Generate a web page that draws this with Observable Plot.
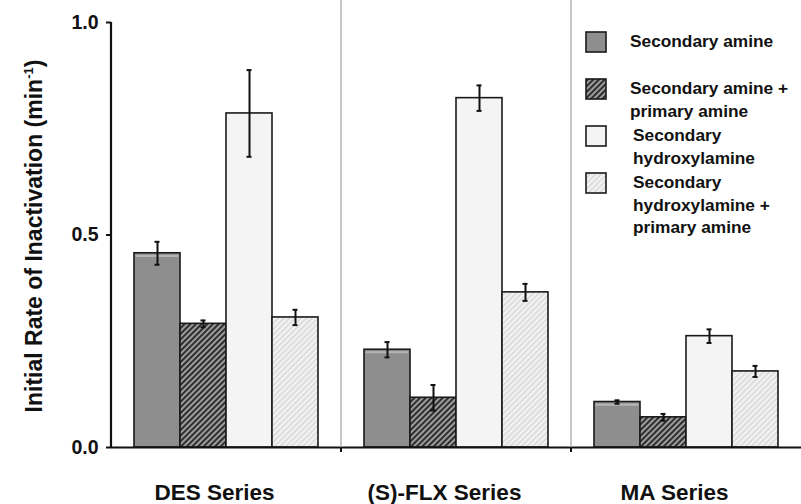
<!DOCTYPE html>
<html>
<head>
<meta charset="utf-8">
<script src="https://cdn.jsdelivr.net/npm/d3@7"></script>
<script src="https://cdn.jsdelivr.net/npm/@observablehq/plot@0.6"></script>
<style>
  html, body { margin: 0; padding: 0; background: #fff; }
  #wrap { position: relative; width: 801px; height: 504px; overflow: hidden; font-family: "Liberation Sans", Arial, sans-serif; }
  #ytitle { position: absolute; left: 34px; top: 236px; transform: translate(-50%, -50%) rotate(-90deg); white-space: nowrap;
            font-weight: bold; font-size: 23px; color: #111; line-height: 1; }
  #ytitle sup { font-size: 13px; }
  .leg { position: absolute; left: 585px; }
  .leg svg { position: absolute; left: 0; top: 0; }
  .leg .lab { position: absolute; top: -1px; font-weight: bold; font-size: 17.3px; line-height: 22.5px; color: #111; white-space: nowrap; }
</style>
</head>
<body>
<div id="wrap"></div>
<script>
const groups = ["DES Series", "(S)-FLX Series", "MA Series"];
const types = ["Secondary amine", "Secondary amine + primary amine", "Secondary hydroxylamine", "Secondary hydroxylamine + primary amine"];
const legendLines = [["Secondary amine"], ["Secondary amine +", "primary amine"], ["Secondary", "hydroxylamine"], ["Secondary", "hydroxylamine +", "primary amine"]];
const desValues = [0.457, 0.291, 0.786, 0.306];
const desErrors = [0.027, 0.008, 0.102, 0.018];
const flxValues = [0.230, 0.117, 0.822, 0.365];
const flxErrors = [0.018, 0.030, 0.030, 0.020];
const maValues = [0.107, 0.071, 0.262, 0.179];
const maErrors = [0.004, 0.008, 0.016, 0.013];
const yTicks = [0, 0.5, 1.0];
const fills = ["#8e8e8e", "url(#hatchDark)", "#f4f4f4", "url(#hatchLight)"];

const valueSets = [desValues, flxValues, maValues];
const errorSets = [desErrors, flxErrors, maErrors];
const data = [];
groups.forEach((g, gi) => types.forEach((t, ti) => {
  const v = valueSets[gi][ti], e = errorSets[gi][ti];
  data.push({group: g, type: t, value: v, lo: v - e, hi: v + e});
}));
const grayBars = data.filter(d => d.type === types[0]);

const font = '"Liberation Sans", Arial, sans-serif';
const plot = Plot.plot({
  width: 801, height: 504,
  marginLeft: 110, marginRight: 0, marginTop: 22, marginBottom: 57,
  style: {fontFamily: font, background: "transparent", overflow: "visible"},
  fx: {domain: groups, padding: 0, label: null},
  x: {domain: types, paddingInner: 0, paddingOuter: 0.45, axis: null},
  y: {domain: [0, 1], axis: null},
  color: {domain: types, range: fills},
  marks: [
    Plot.barY(data, {fx: "group", x: "type", y: "value", fill: "type", stroke: "#1a1a1a", strokeWidth: 1.6}),
    Plot.tickY(grayBars, {fx: "group", x: "type", y: "value", dy: 2.5, insetLeft: 1.5, insetRight: 1.5, stroke: "#b4b4b4", strokeWidth: 2.2}),
    Plot.ruleY([0], {stroke: "#111", strokeWidth: 2.2}),
    Plot.ruleX(data, {fx: "group", x: "type", y1: "lo", y2: "hi", stroke: "#111", strokeWidth: 2}),
    Plot.tickY(data, {fx: "group", x: "type", y: "lo", insetLeft: 20.5, insetRight: 20.5, stroke: "#111", strokeWidth: 2}),
    Plot.tickY(data, {fx: "group", x: "type", y: "hi", insetLeft: 20.5, insetRight: 20.5, stroke: "#111", strokeWidth: 2}),
    Plot.axisY({ticks: yTicks, tickFormat: d3.format(".1f"), tickSize: 5, tickPadding: 8, fontSize: 19.5, fontWeight: "bold", label: null, stroke: "#111", strokeWidth: 2, fill: "#111"}),
    Plot.axisFx({anchor: "bottom", tickSize: 0, tickPadding: 37, dx: -12, fontSize: 22.5, fontWeight: "bold", label: null, fill: "#111"})
  ]
});

// pattern defs
const svg = d3.select(plot);
const defs = svg.insert("defs", ":first-child");
function hatch(id, bg, fg, w) {
  const p = defs.append("pattern").attr("id", id).attr("patternUnits", "userSpaceOnUse")
    .attr("width", 4).attr("height", 4).attr("patternTransform", "rotate(45)");
  p.append("rect").attr("width", 4).attr("height", 4).attr("fill", bg);
  p.append("line").attr("x1", 1).attr("y1", 0).attr("x2", 1).attr("y2", 4).attr("stroke", fg).attr("stroke-width", w);
}
hatch("hatchDark", "#2e2e2e", "#d8d8d8", 1.3);
hatch("hatchLight", "#f3f3f3", "#cfcfcf", 1.2);

// axis line and group separators from the library's scales
const fx = plot.scale("fx"), y = plot.scale("y");
const gLines = svg.append("g");
const x0 = fx.apply(groups[0]);
gLines.append("line").attr("x1", x0).attr("x2", x0).attr("y1", y.apply(1)).attr("y2", y.apply(0))
  .attr("stroke", "#111").attr("stroke-width", 2.2);
groups.slice(1).forEach(g => {
  const xs = fx.apply(g);
  gLines.append("line").attr("x1", xs).attr("x2", xs).attr("y1", 0).attr("y2", y.apply(0))
    .attr("stroke", "#b5b5b5").attr("stroke-width", 1.5);
  gLines.append("line").attr("x1", xs).attr("x2", xs).attr("y1", y.apply(0)).attr("y2", y.apply(0) + 5)
    .attr("stroke", "#111").attr("stroke-width", 2);
});

const wrap = document.getElementById("wrap");
wrap.appendChild(plot);

// y title
const yt = document.createElement("div");
yt.id = "ytitle";
yt.innerHTML = "Initial Rate of Inactivation (min<sup>-1</sup>)";
wrap.appendChild(yt);

// legend
const legTops = [31, 78, 125, 172];
types.forEach((t, i) => {
  const item = document.createElement("div");
  item.className = "leg";
  item.style.top = legTops[i] + "px";
  item.innerHTML = `<svg width="22" height="22"><rect x="1" y="1" width="20" height="20" fill="${fills[i]}" stroke="#1a1a1a" stroke-width="1.6"/></svg>` +
    `<div class="lab" style="left:${i < 2 ? 45 : 48}px">${legendLines[i].join("<br>")}</div>`;
  wrap.appendChild(item);
});
</script>
</body>
</html>
